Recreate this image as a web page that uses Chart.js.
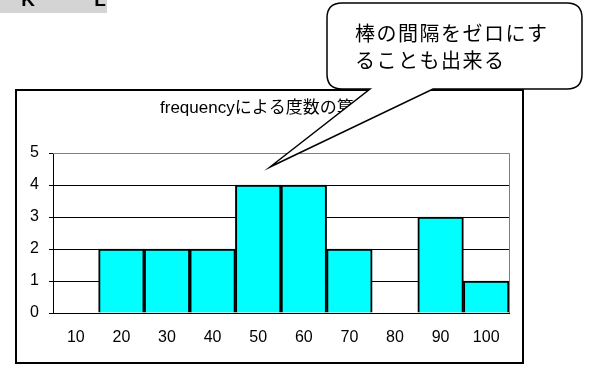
<!DOCTYPE html>
<html>
<head>
<meta charset="utf-8">
<script src="https://cdn.jsdelivr.net/npm/chart.js@4"></script>
<style>
  html, body { margin: 0; padding: 0; background: #fff; overflow: hidden; }
  #wrap { width: 592px; height: 365px; position: relative; }
</style>
</head>
<body>
<div id="wrap"><canvas id="c" width="592" height="365"></canvas></div>
<script>
// Frequency table: class upper bounds and counts
const classes = ['10', '20', '30', '40', '50', '60', '70', '80', '90', '100'];
const counts = [0, 2, 2, 2, 4, 4, 2, 0, 3, 1];
const yTicks = [0, 1, 2, 3, 4, 5];

const titleText = 'frequencyによる度数の算出';
const calloutLines = ['棒の間隔をゼロにす', 'ることも出来る'];
const headerLabels = ['K', 'L'];

const FONT = "'Liberation Sans', Arial, 'Noto Sans CJK JP', sans-serif";

// Sheet header, chart frame, plot-area border, title and callout
const framePlugin = {
  id: 'frame',
  beforeDraw(chart) {
    const ctx = chart.ctx;
    ctx.save();
    ctx.fillStyle = '#fff';
    ctx.fillRect(0, 0, chart.width, chart.height);
    // column header strip
    ctx.fillStyle = '#d4d4d4';
    ctx.fillRect(0, 0, 107, 13);
    ctx.fillStyle = '#000';
    ctx.font = 'bold 19px ' + FONT;
    ctx.textBaseline = 'alphabetic';
    ctx.textAlign = 'center';
    ctx.fillText(headerLabels[0], 28, 6);
    ctx.fillText(headerLabels[1], 100, 6);
    // chart frame
    ctx.strokeStyle = '#000';
    ctx.lineWidth = 2;
    ctx.strokeRect(16, 90, 507, 273);
    ctx.restore();
  },
  beforeDatasetsDraw(chart) {
    const a = chart.chartArea;
    const ctx = chart.ctx;
    ctx.save();
    ctx.strokeStyle = '#808080';
    ctx.lineWidth = 1;
    ctx.beginPath();
    ctx.moveTo(a.left, a.top + 0.5);
    ctx.lineTo(a.right + 0.5, a.top + 0.5);
    ctx.lineTo(a.right + 0.5, a.bottom);
    ctx.stroke();
    ctx.restore();
  },
  afterDraw(chart) {
    const ctx = chart.ctx;
    ctx.save();
    // chart title
    ctx.fillStyle = '#000';
    ctx.font = '17px ' + FONT;
    ctx.textAlign = 'left';
    ctx.textBaseline = 'middle';
    ctx.fillText(titleText, 160, 108);

    // speech-bubble callout
    const L = 327, T = 3, R = 582, B = 89, r = 15;
    ctx.beginPath();
    ctx.moveTo(L + r, T);
    ctx.lineTo(R - r, T);
    ctx.quadraticCurveTo(R, T, R, T + r);
    ctx.lineTo(R, B - r);
    ctx.quadraticCurveTo(R, B, R - r, B);
    ctx.lineTo(433, B);
    ctx.lineTo(270, 167);
    ctx.lineTo(370, B);
    ctx.lineTo(L + r, B);
    ctx.quadraticCurveTo(L, B, L, B - r);
    ctx.lineTo(L, T + r);
    ctx.quadraticCurveTo(L, T, L + r, T);
    ctx.closePath();
    ctx.fillStyle = '#fff';
    ctx.fill();
    ctx.strokeStyle = '#000';
    ctx.lineWidth = 1.5;
    ctx.stroke();

    ctx.fillStyle = '#000';
    ctx.font = '20px ' + FONT;
    ctx.textAlign = 'left';
    ctx.textBaseline = 'middle';
    if ('letterSpacing' in ctx) ctx.letterSpacing = '1.5px';
    ctx.fillText(calloutLines[0], 355, 35);
    ctx.fillText(calloutLines[1], 355, 62);
    ctx.restore();
  }
};

new Chart(document.getElementById('c'), {
  type: 'bar',
  data: {
    labels: classes,
    datasets: [{
      data: counts,
      backgroundColor: '#00ffff',
      borderColor: '#000',
      borderWidth: 2,
      barPercentage: 1,
      categoryPercentage: 1
    }]
  },
  options: {
    responsive: false,
    animation: false,
    devicePixelRatio: 1,
    layout: { padding: { left: 15, right: 83, top: 153, bottom: 12 } },
    plugins: { legend: { display: false }, tooltip: { enabled: false }, title: { display: false } },
    scales: {
      x: {
        grid: { display: false, drawTicks: false },
        border: { display: true, color: '#000', width: 1 },
        ticks: { color: '#000', font: { family: FONT, size: 16 }, padding: 15, maxRotation: 0 },
        afterFit(s) { s.height = 40; }
      },
      y: {
        min: yTicks[0],
        max: yTicks[yTicks.length - 1],
        afterBuildTicks(s) { s.ticks = yTicks.map(v => ({ value: v })); },
        grid: { color: '#000', lineWidth: 1, drawTicks: true, tickLength: 4 },
        border: { display: true, color: '#000', width: 1 },
        ticks: { color: '#000', font: { family: FONT, size: 16 }, padding: 10 },
        afterFit(s) { s.width = 38; }
      }
    }
  },
  plugins: [framePlugin]
});
</script>
</body>
</html>
